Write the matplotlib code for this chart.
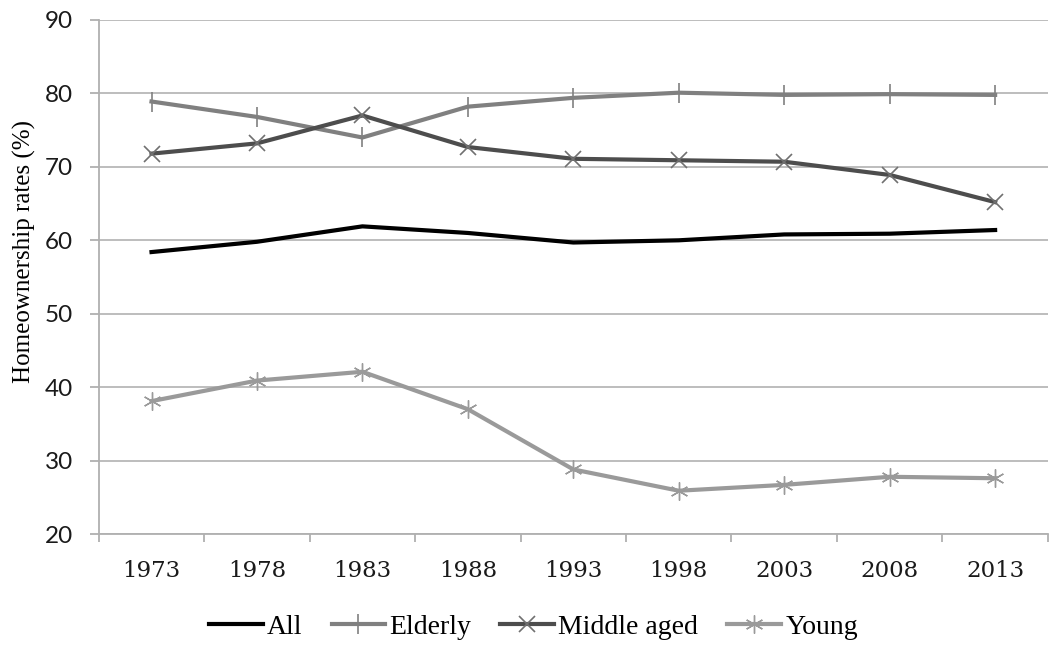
import matplotlib.pyplot as plt
import numpy as np

years = ['1973', '1978', '1983', '1988', '1993', '1998', '2003', '2008', '2013']
all_rates = [58.4, 59.8, 61.9, 61.0, 59.7, 60.0, 60.8, 60.9, 61.4]
elderly = [78.9, 76.8, 74.0, 78.2, 79.4, 80.1, 79.8, 79.9, 79.8]
middle_aged = [71.8, 73.2, 77.0, 72.7, 71.1, 70.9, 70.7, 68.9, 65.2]
young = [38.1, 40.9, 42.1, 37.0, 28.8, 25.9, 26.7, 27.8, 27.6]

fig = plt.figure(figsize=(10.51, 6.45), dpi=100)
ax = fig.add_axes([0.094, 0.172, 0.903, 0.797])

x = np.arange(len(years))
ax.plot(x, all_rates, color='black', lw=3, label='All')
ax.plot(x, elderly, color='#808080', lw=3, marker='|', ms=14, mew=1.2, label='Elderly')
ax.plot(x, middle_aged, color='#4d4d4d', lw=3, marker='x', ms=11, mew=1.2,
        mec='#707070', label='Middle aged')
ax.plot(x, young, color='#9a9a9a', lw=3, marker=(6, 2, 0), ms=13, mew=1.0,
        label='Young')

ax.set_ylim(20, 90)
ax.set_xlim(-0.5, len(years) - 0.5)
ax.set_yticks(range(20, 91, 10))
ax.yaxis.grid(True, color='#b8b8b8', lw=1.3)
ax.set_axisbelow(True)
for s in ['top', 'right']:
    ax.spines[s].set_visible(False)
for s in ['left', 'bottom']:
    ax.spines[s].set_color('#b0b0b0')
    ax.spines[s].set_linewidth(1.3)

ax.set_xticks(x)
ax.set_xticklabels(years)
ax.set_xticks(np.arange(-0.5, len(years)), minor=True)
ax.tick_params(axis='x', which='major', length=0, pad=19)
ax.tick_params(axis='x', which='minor', length=6, color='#b0b0b0', width=1.3)
ax.tick_params(axis='y', length=6.5, color='#b0b0b0', width=1.3, pad=12)
for lab in ax.get_xticklabels():
    lab.set_fontfamily('DejaVu Serif')
    lab.set_fontsize(16.5)
    lab.set_color('#1a1a1a')
for lab in ax.get_yticklabels():
    lab.set_fontfamily('Lato')
    lab.set_fontsize(17.5)
    lab.set_color('#1a1a1a')

ax.set_ylabel('Homeownership rates (%)', family='Liberation Serif', fontsize=18)
ax.yaxis.set_label_coords(-0.066, 0.55)

leg = ax.legend(loc='upper center', bbox_to_anchor=(0.458, -0.107), ncol=4, frameon=False,
                prop={'family': 'Liberation Serif', 'size': 20}, handlelength=1.94,
                handletextpad=0.15, columnspacing=1.04)

fig.savefig('out.png', dpi=100)
